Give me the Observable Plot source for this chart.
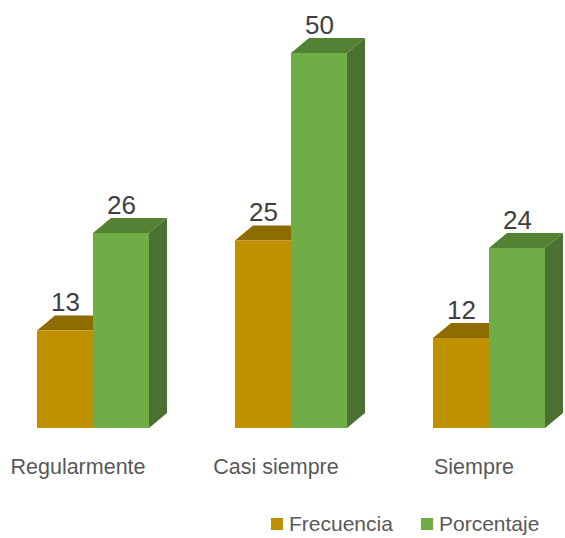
<!DOCTYPE html>
<html>
<head>
<meta charset="utf-8">
<script src="https://cdn.jsdelivr.net/npm/d3@7"></script>
<script src="https://cdn.jsdelivr.net/npm/@observablehq/plot@0.6"></script>
<style>
  html, body { margin: 0; padding: 0; background: #fff; }
  #wrap { position: relative; width: 565px; height: 538px; overflow: hidden; }
  #legend { position: absolute; left: 0; top: 509px; width: 565px; height: 29px;
            font-family: "Liberation Sans", Arial, sans-serif; font-size: 21px; color: #595959; }
  .item { position: absolute; top: 0; display: flex; align-items: center; height: 30px; }
  .sw { width: 12px; height: 12px; margin-right: 6px; }
</style>
</head>
<body>
<div id="wrap">
  <div id="chart"></div>
  <div id="legend"></div>
</div>
<script>
// ---- data ----
const categories = ["Regularmente", "Casi siempre", "Siempre"];
const series = ["Frecuencia", "Porcentaje"];
const frecuencia = [13, 25, 12];
const porcentaje = [26, 50, 24];

// ---- styles ----
const frontColor = {Frecuencia: "#BF9000", Porcentaje: "#70AD47"};
const topColor   = {Frecuencia: "#8F6C00", Porcentaje: "#548235"};
const sideColor  = {Frecuencia: "#7F6000", Porcentaje: "#4A7130"};
const depthX = 18, depthY = 15;

const data = [];
categories.forEach((c, i) => {
  data.push({category: c, series: "Frecuencia", value: frecuencia[i]});
  data.push({category: c, series: "Porcentaje", value: porcentaje[i]});
});

function bars3d(index, scales, values, dimensions, context) {
  const g = d3.create("svg:g");
  const bw = scales.x.bandwidth();
  const y0 = scales.y(0);
  const idx = Array.from(index).sort((a, b) => series.indexOf(data[a].series) - series.indexOf(data[b].series));
  for (const i of idx) {
    const d = data[i];
    const x1 = scales.x(d.series), x2 = x1 + bw;
    const yv = scales.y(d.value);
    // side face
    g.append("polygon")
      .attr("points", [[x2, yv], [x2 + depthX, yv - depthY], [x2 + depthX, y0 - depthY], [x2, y0]].join(" "))
      .attr("fill", sideColor[d.series]);
    // top face
    g.append("polygon")
      .attr("points", [[x1, yv], [x1 + depthX, yv - depthY], [x2 + depthX, yv - depthY], [x2, yv]].join(" "))
      .attr("fill", topColor[d.series]);
    // front face
    g.append("rect")
      .attr("x", x1).attr("y", yv).attr("width", bw).attr("height", y0 - yv)
      .attr("fill", frontColor[d.series]);
  }
  return g.node();
}

const chart = Plot.plot({
  width: 565,
  height: 500,
  marginLeft: 35,
  marginRight: 18,
  marginTop: 53,
  marginBottom: 72,
  style: {fontFamily: "'Liberation Sans', Arial, sans-serif", background: "#fff", overflow: "visible"},
  fx: {domain: categories, paddingInner: 0.427, paddingOuter: 0, axis: null, label: null},
  x: {domain: series, padding: 0, axis: null},
  y: {domain: [0, 50], axis: null},
  marks: [
    Plot.barY(data, {fx: "category", x: "series", y: "value", render: bars3d}),
    Plot.text(data, {fx: "category", x: "series", y: "value", text: d => String(d.value),
      lineAnchor: "bottom", dy: -20, fontSize: 26, fill: "#404040"}),
    Plot.text(categories, {fx: d => d, text: d => d, frameAnchor: "bottom", dy: 45, dx: -15,
      fontSize: 21.5, fill: "#595959"})
  ]
});
document.getElementById("chart").appendChild(chart);

// legend
const legend = document.getElementById("legend");
const legendLeft = [271, 421];
series.forEach((s, i) => {
  const item = document.createElement("div");
  item.className = "item";
  item.style.left = legendLeft[i] + "px";
  const sw = document.createElement("div");
  sw.className = "sw";
  sw.style.background = frontColor[s];
  const t = document.createElement("span");
  t.textContent = s;
  item.appendChild(sw);
  item.appendChild(t);
  legend.appendChild(item);
});
</script>
</body>
</html>
